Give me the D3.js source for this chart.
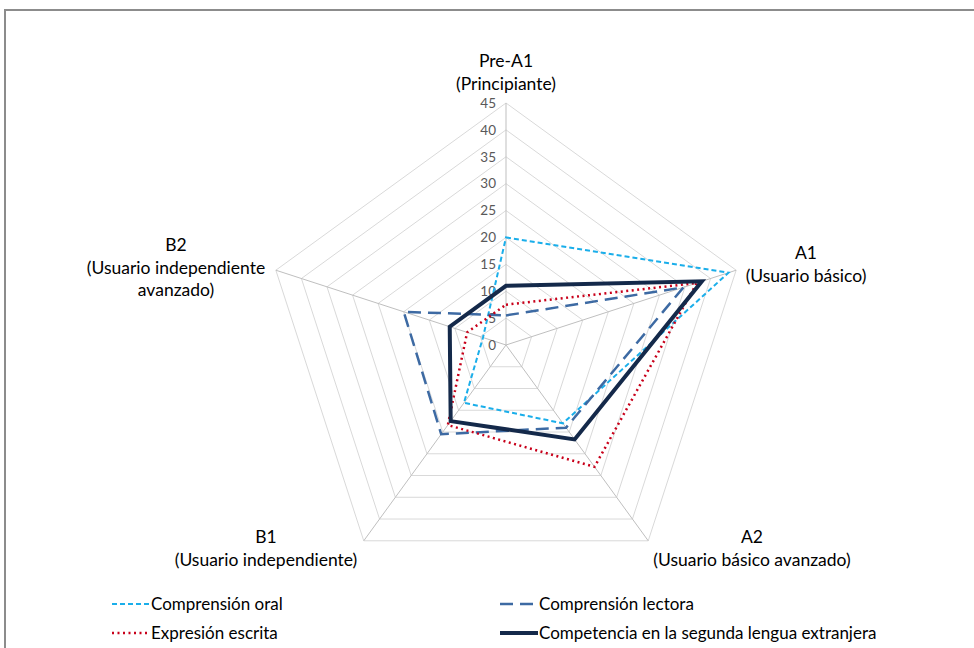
<!DOCTYPE html>
<html>
<head>
<meta charset="utf-8">
<script src="https://cdn.jsdelivr.net/npm/d3@7"></script>
<style>
  body { margin: 0; background: #fff; }
  svg { display: block; font-family: "Lato", "Open Sans", sans-serif; }
</style>
</head>
<body>
<div id="container"></div>
<script>
var width = 974;
var height = 648;

// axis categories (two / three label lines each)
var categories = ["Pre-A1", "A1", "A2", "B1", "B2"];
var categoryLabels = [
    ["Pre-A1", "(Principiante)"],
    ["A1", "(Usuario básico)"],
    ["A2", "(Usuario básico avanzado)"],
    ["B1", "(Usuario independiente)"],
    ["B2", "(Usuario independiente", "avanzado)"]
];
var tickValues = [0, 5, 10, 15, 20, 25, 30, 35, 40, 45];

var seriesNames = ["Comprensión oral", "Comprensión lectora", "Expresión escrita", "Competencia en la segunda lengua extranjera"];
var oral = [20, 43.5, 18, 13.3, 4.5];
var lectora = [5.5, 34.7, 19, 20.5, 20];
var escrita = [7.5, 37.3, 28, 18.4, 7.6];
var competencia = [11, 38.3, 21.7, 17.5, 11];

var seriesStyles = [
    { color: "#1aaeea", width: 2, dash: "5,3" },
    { color: "#3d6aa3", width: 2.5, dash: "13,7" },
    { color: "#c8001a", width: 2.5, dash: "2,3.5" },
    { color: "#14294a", width: 4, dash: null }
];
var seriesValues = [oral, lectora, escrita, competencia];

var svg = d3.select("div#container").append("svg")
    .attr("width", width)
    .attr("height", height);

// outer frame
svg.append("rect")
    .attr("x", 5).attr("y", 10)
    .attr("width", 1000).attr("height", 700)
    .attr("fill", "none")
    .attr("stroke", "#8c8c8c")
    .attr("stroke-width", 2);

var cx = 506, cy = 345;
var r = d3.scaleLinear().domain([0, 45]).range([0, 242]);
var angle = d3.scaleBand().domain(categories).range([0, 2 * Math.PI]);

function pt(cat, v) {
    var a = angle(cat) - Math.PI / 2;
    return [cx + r(v) * Math.cos(a), cy + r(v) * Math.sin(a)];
}

var g = svg.append("g");

// grid rings
tickValues.slice(1).forEach(function(t) {
    g.append("path")
        .attr("d", d3.line()(categories.map(function(c) { return pt(c, t); })) + "Z")
        .attr("fill", "none")
        .attr("stroke", "#d9d9d9")
        .attr("stroke-width", 1);
});

// spokes
categories.forEach(function(c) {
    var p = pt(c, 45);
    g.append("line")
        .attr("x1", cx).attr("y1", cy)
        .attr("x2", p[0]).attr("y2", p[1])
        .attr("stroke", "#bfbfbf")
        .attr("stroke-width", 1);
});

// tick labels
g.selectAll("text.tick")
    .data(tickValues)
    .enter().append("text")
    .attr("class", "tick")
    .attr("x", cx - 10)
    .attr("y", function(d) { return cy - r(d); })
    .attr("dy", "0.35em")
    .attr("text-anchor", "end")
    .attr("font-size", 13.5)
    .attr("fill", "#595959")
    .text(function(d) { return d; });

// series
var lineGen = d3.line();
seriesValues.forEach(function(vals, i) {
    var s = seriesStyles[i];
    g.append("path")
        .attr("d", lineGen(categories.map(function(c, j) { return pt(c, vals[j]); })) + "Z")
        .attr("fill", "none")
        .attr("stroke", s.color)
        .attr("stroke-width", s.width)
        .attr("stroke-dasharray", s.dash)
        .attr("stroke-linejoin", "miter");
});

// category labels
var labelPos = [[506, 67], [806, 259], [752, 543], [266, 543], [176, 251]];
categoryLabels.forEach(function(lines, i) {
    var t = svg.append("text")
        .attr("text-anchor", "middle")
        .attr("font-size", 17.5)
        .attr("fill", "#000");
    lines.forEach(function(l, k) {
        t.append("tspan")
            .attr("x", labelPos[i][0])
            .attr("y", labelPos[i][1] + k * 22.5)
            .text(l);
    });
});

// legend
var legendPos = [[112, 604], [500, 604], [112, 633], [500, 633]];
seriesNames.forEach(function(name, i) {
    var s = seriesStyles[i];
    var lx = legendPos[i][0], ly = legendPos[i][1];
    svg.append("line")
        .attr("x1", lx).attr("x2", lx + 38)
        .attr("y1", ly).attr("y2", ly)
        .attr("stroke", s.color)
        .attr("stroke-width", s.width)
        .attr("stroke-dasharray", s.dash);
    svg.append("text")
        .attr("x", lx + 39)
        .attr("y", ly)
        .attr("dy", "0.35em")
        .attr("font-size", 17)
        .attr("fill", "#000")
        .text(name);
});
</script>
</body>
</html>
